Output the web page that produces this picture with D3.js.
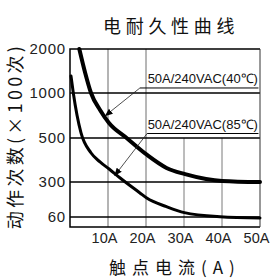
<!DOCTYPE html>
<html>
<head>
<meta charset="utf-8">
<script src="https://cdn.jsdelivr.net/npm/d3@7"></script>
<style>
  html, body { margin: 0; padding: 0; background: #fff; }
  svg { display: block; }
</style>
</head>
<body>
<svg id="chart" width="274" height="278"></svg>
<script>
// tick values
const yTicks = [60, 300, 500, 1000, 2000];
const xTicks = [10, 20, 30, 40, 50];

// 50A/240VAC at 40℃
const current40 = [2.45, 4.0, 5.53, 7.9, 10.26, 14.9, 20.2, 25.4, 30.3, 35.8, 40, 50];
const cycles40 = [2000, 1455, 1000, 811, 667, 500, 424, 364, 336, 314, 305, 300];

// 50A/240VAC at 85℃
const current85 = [0.26, 0.87, 2.9, 5.5, 7.9, 10.3, 13.2, 18.4, 20.2, 25.4, 30.1, 39.5, 50];
const cycles85 = [1386, 1000, 556, 433, 391, 359, 318, 225, 190, 131, 90, 62, 53];

const seriesLabels = ['50A/240VAC(40℃)', '50A/240VAC(85℃)'];

const plotLeft = 70, plotRight = 260, plotTop = 49, plotBottom = 227;

const svg = d3.select('#chart');

const x = d3.scaleLinear().domain([0, 50]).range([plotLeft, plotRight]);
// the y axis of the original is not a true log scale, ticks are roughly evenly spaced
const y = d3.scaleLinear().domain(yTicks).range([217, 182, 138, 93, plotTop]);

// arrow marker
svg.append('defs').append('marker')
  .attr('id', 'arrow')
  .attr('viewBox', '0 0 10 10')
  .attr('refX', 9).attr('refY', 5)
  .attr('markerWidth', 8).attr('markerHeight', 8)
  .attr('markerUnits', 'userSpaceOnUse')
  .attr('orient', 'auto')
  .append('path')
  .attr('d', 'M0,1 L10,5 L0,9 Z')
  .attr('fill', '#000');

const grid = svg.append('g');

// vertical grid lines
grid.append('line')
  .attr('x1', x(10)).attr('x2', x(10))
  .attr('y1', plotTop).attr('y2', plotBottom)
  .attr('stroke', '#b4b4b4').attr('stroke-width', 2);
grid.append('line')
  .attr('x1', x(20)).attr('x2', x(20))
  .attr('y1', plotTop).attr('y2', plotBottom)
  .attr('stroke', '#6e6e6e').attr('stroke-width', 1);
grid.selectAll('line.vshort')
  .data([30, 40])
  .join('line')
  .attr('class', 'vshort')
  .attr('x1', d => x(d)).attr('x2', d => x(d))
  .attr('y1', y(500)).attr('y2', plotBottom)
  .attr('stroke', '#7a7a7a').attr('stroke-width', 1);

// horizontal grid lines
grid.selectAll('line.h')
  .data(yTicks.filter(d => d !== 2000))
  .join('line')
  .attr('class', 'h')
  .attr('x1', plotLeft).attr('x2', plotRight)
  .attr('y1', d => y(d)).attr('y2', d => y(d))
  .attr('stroke', '#000').attr('stroke-width', 1.3);

// frame
svg.append('path')
  .attr('d', `M${plotRight},${plotTop} L${plotLeft},${plotTop} L${plotLeft},${plotBottom} L${plotRight},${plotBottom}`)
  .attr('fill', 'none').attr('stroke', '#000').attr('stroke-width', 1.5);
svg.append('line')
  .attr('x1', plotRight).attr('x2', plotRight).attr('y1', plotTop).attr('y2', plotBottom)
  .attr('stroke', '#333').attr('stroke-width', 1);

// curves
const line = d3.line()
  .x(d => x(d[0]))
  .y(d => y(d[1]))
  .curve(d3.curveMonotoneX);

svg.append('path')
  .datum(d3.zip(current40, cycles40))
  .attr('d', line)
  .attr('fill', 'none').attr('stroke', '#000').attr('stroke-width', 4)
  .attr('stroke-linecap', 'round');

svg.append('path')
  .datum(d3.zip(current85, cycles85))
  .attr('d', line)
  .attr('fill', 'none').attr('stroke', '#000').attr('stroke-width', 3)
  .attr('stroke-linecap', 'round');

// axes (labels only)
const yAxis = svg.append('g')
  .attr('transform', `translate(${plotLeft},0)`)
  .call(d3.axisLeft(y).tickValues(yTicks).tickSize(0).tickPadding(4).tickFormat(d3.format('d')));
yAxis.select('.domain').remove();
yAxis.selectAll('text')
  .attr('font-family', '"Liberation Sans", Arial, sans-serif')
  .attr('font-size', 15)
  .attr('letter-spacing', 0.8)
  .attr('fill', '#222');

const xAxis = svg.append('g')
  .attr('transform', `translate(0,${plotBottom})`)
  .call(d3.axisBottom(x).tickValues(xTicks).tickSize(0).tickPadding(6).tickFormat(d => d + 'A'));
xAxis.select('.domain').remove();
xAxis.selectAll('text')
  .attr('dx', -4)
  .attr('font-family', '"Liberation Sans", Arial, sans-serif')
  .attr('font-size', 14.5)
  .attr('fill', '#222');

// annotations: label, underline and leader arrow
const ann = svg.append('g');
function annotate(label, lineY, startA, tipA, tipV) {
  const ly = y(lineY);
  ann.append('line')
    .attr('x1', x(startA)).attr('x2', x(49.6))
    .attr('y1', ly).attr('y2', ly)
    .attr('stroke', '#000').attr('stroke-width', 1);
  ann.append('line')
    .attr('x1', x(startA)).attr('y1', ly)
    .attr('x2', x(tipA)).attr('y2', y(tipV))
    .attr('stroke', '#222').attr('stroke-width', 0.8)
    .attr('marker-end', 'url(#arrow)');
  ann.append('text')
    .attr('x', x(20.3) + 0.5)
    .attr('y', ly - 4.5)
    .attr('font-family', '"Liberation Sans", Arial, sans-serif')
    .attr('font-size', 13)
    .attr('fill', '#111')
    .text(label);
}
annotate(seriesLabels[0], 1114, 18.4, 9.3, 748);
annotate(seriesLabels[1], 550, 20.3, 11.8, 330);

// titles
const cjk = '"Noto Sans CJK SC", "Noto Sans CJK JP", sans-serif';
svg.append('text')
  .attr('x', 103).attr('y', 33)
  .attr('font-family', cjk)
  .attr('font-size', 18)
  .attr('letter-spacing', 4.7)
  .attr('fill', '#111')
  .text('电耐久性曲线');

svg.append('text')
  .attr('x', 109).attr('y', 274)
  .attr('font-family', cjk)
  .attr('font-size', 17)
  .attr('letter-spacing', 6)
  .attr('fill', '#111')
  .text('触点电流(A)');

svg.append('text')
  .attr('transform', 'translate(22,136) rotate(-90)')
  .attr('text-anchor', 'middle')
  .attr('font-family', cjk)
  .attr('font-size', 18)
  .attr('letter-spacing', 3.3)
  .attr('fill', '#111')
  .text('动作次数(×100次)');
</script>
</body>
</html>
